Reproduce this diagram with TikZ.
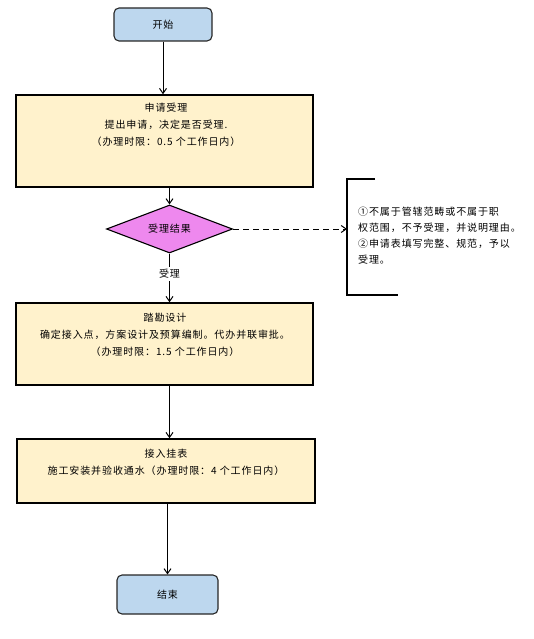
\documentclass[tikz,border=0pt]{standalone}
\usepackage{fontspec}
\setmainfont[LetterSpace=9]{Noto Sans CJK SC}
\usetikzlibrary{shapes.geometric,arrows.meta}
\definecolor{startblue}{HTML}{BDD7EE}
\definecolor{boxyellow}{HTML}{FFF2CC}
\definecolor{diapink}{HTML}{EE88EE}
\tikzset{
  term/.style={draw=black!85, line width=1.1pt, fill=startblue, rounded corners=5pt, font=\fontsize{10}{12}\selectfont},
  stepbox/.style={draw=black, line width=1.5pt, fill=boxyellow},
  boxtext/.style={align=center, anchor=north, inner sep=0pt, font=\fontsize{10}{17}\selectfont},
  decision/.style={diamond, draw=black, line width=1.1pt, fill=diapink, aspect=2.6, inner sep=0pt, font=\fontsize{10}{12}\selectfont},
  flow/.style={line width=1pt, -{Straight Barb[length=5pt,width=7pt,line width=1pt]}},
  dashflow/.style={flow, dash pattern=on 6pt off 4pt},
  brk/.style={line width=1.5pt}
}
\begin{document}
\begin{tikzpicture}[x=1pt,y=-1pt]
\useasboundingbox (0,0) rectangle (533,639);
% terminals
\node[term, minimum width=98pt, minimum height=33pt] (s) at (163,24.5) {开始};
\node[term, minimum width=101pt, minimum height=39pt] (e) at (167.5,594.5) {结束};
% step boxes
\node[stepbox, minimum width=297pt, minimum height=92pt] (b1) at (164.5,141) {};
\node[boxtext] (t1) at (166,102.5) {申请受理\\提出申请，决定是否受理.\\（办理时限：0.5 个工作日内）};
\node[decision, minimum width=126pt, minimum height=48pt] (d) at (169.5,229) {受理结果};
\node[stepbox, minimum width=297pt, minimum height=82pt] (b2) at (164.5,344) {};
\node[boxtext] (t2) at (165,312.5) {踏勘设计\\确定接入点，方案设计及预算编制。代办并联审批。\\（办理时限：1.5 个工作日内）};
\node[stepbox, minimum width=298pt, minimum height=64pt] (b3) at (166,471) {};
\node[boxtext] (t3) at (166,448.5) {接入挂表\\施工安装并验收通水（办理时限：4 个工作日内）};
% bracket note
\coordinate (k1) at (375,179);
\coordinate (k2) at (347,179);
\coordinate (k3) at (347,295);
\coordinate (k4) at (398,295);
\draw[brk] (k1) -- (k2) -- (k3) -- (k4);
\node[align=left, anchor=north west, inner sep=0pt, font=\fontsize{10}{16}\selectfont] (note) at (358,207)
  {①不属于管辖范畴或不属于职\\权范围，不予受理，并说明理由。\\②申请表填写完整、规范，予以\\受理。};
% connectors
\draw[flow] (s) -- (s |- b1.north);
\draw[flow] (d |- b1.south) -- (d.north);
\draw[flow] (d.south) -- node[pos=0.42, fill=white, inner sep=2pt, font=\fontsize{10}{12}\selectfont] (lbl) {受理} (d |- b2.north);
\draw[dashflow] (d.east) -- (d.east -| k2);
\draw[flow] (b2.south -| d) -- (b3.north -| d);
\draw[flow] (e |- b3.south) -- (e.north);
\end{tikzpicture}
\end{document}
